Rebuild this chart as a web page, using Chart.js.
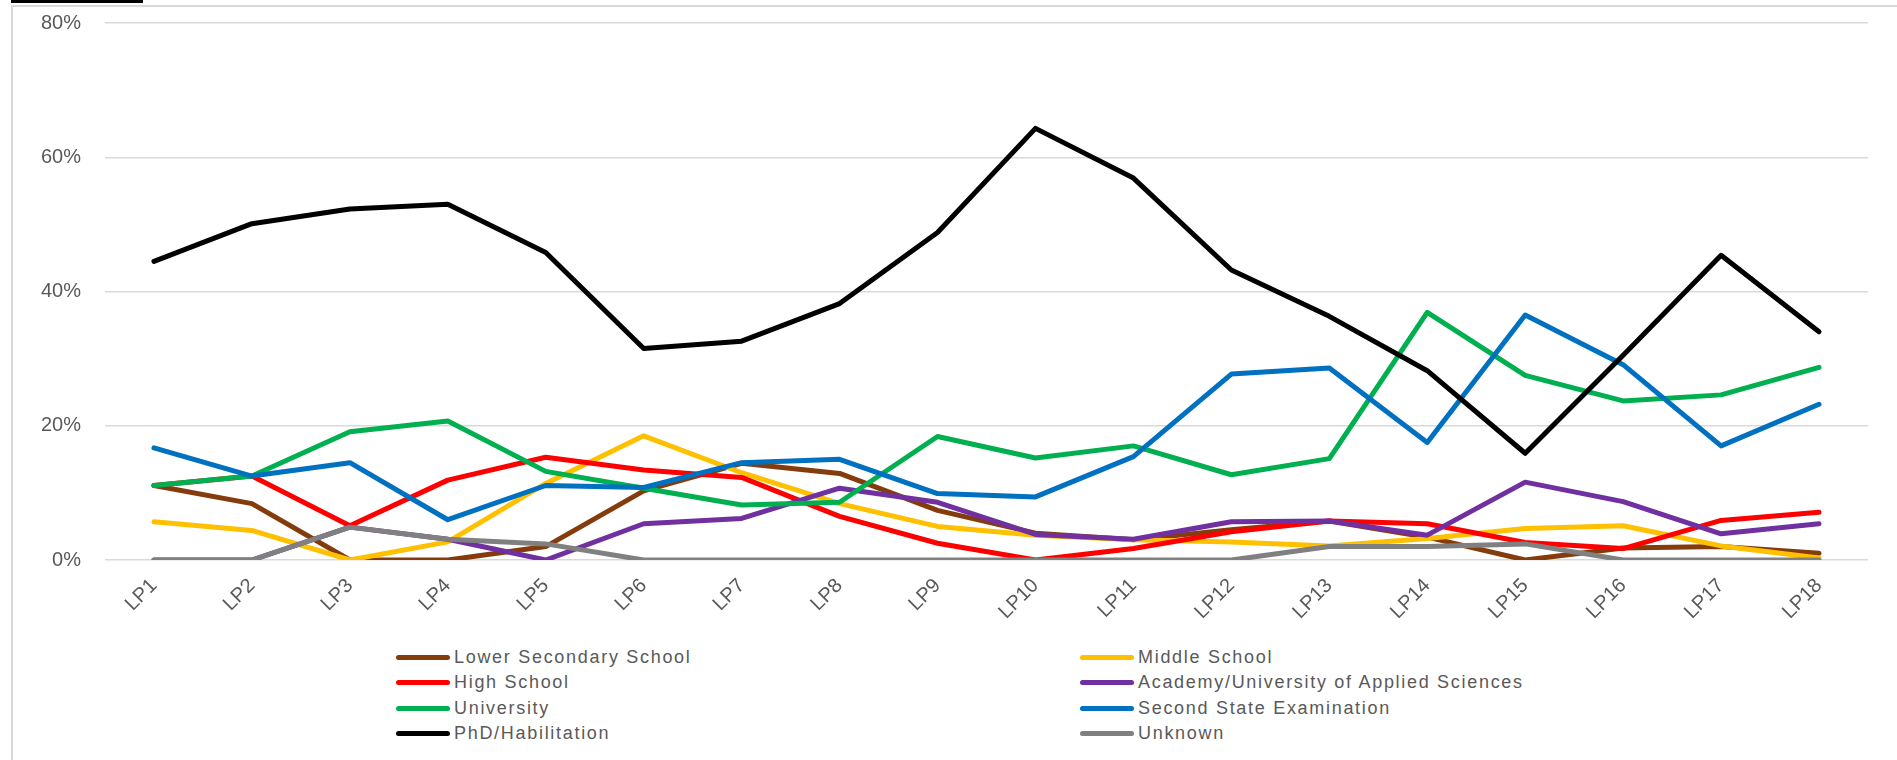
<!DOCTYPE html>
<html>
<head>
<meta charset="utf-8">
<script src="https://cdn.jsdelivr.net/npm/chart.js@4/dist/chart.umd.min.js"></script>
<style>
  body { margin: 0; background: #fff; width: 1897px; height: 760px; overflow: hidden; position: relative; font-family: "Liberation Sans", Arial, sans-serif; }
  #frame { position: absolute; left: 11px; top: 5px; width: 2000px; height: 900px; border-left: 2px solid #d9d9d9; border-top: 2px solid #d9d9d9; }
  #bar { position: absolute; left: 11px; top: 0; width: 132px; height: 3px; background: #000; }
  #wrap { position: absolute; left: 0; top: 0; width: 1897px; height: 640px; }
  #legend { position: absolute; left: 0; top: 0; }
  .item { position: absolute; height: 26px; display: flex; align-items: center; color: #595959; font-size: 18px; letter-spacing: 1.7px; white-space: nowrap; }
  .item span.swatch { display: inline-block; width: 54px; height: 5px; border-radius: 3px; margin-right: 4px; }
</style>
</head>
<body>
<div id="frame"></div>
<div id="bar"></div>
<div id="wrap"><canvas id="grafico"></canvas></div>
<div id="legend"></div>
<script>
const labels = ["LP1", "LP2", "LP3", "LP4", "LP5", "LP6", "LP7", "LP8", "LP9",
  "LP10", "LP11", "LP12", "LP13", "LP14", "LP15", "LP16", "LP17", "LP18"];

// values in percent
const lowerSecondary = [11.1, 8.4, 0, 0, 2.0, 10.3, 14.4, 12.9, 7.4, 4.0, 3.0, 4.5, 5.8, 3.4, 0, 1.8, 2.0, 1.0];
const middleSchool = [5.7, 4.4, 0, 2.7, 11.4, 18.5, 13.0, 8.4, 5.0, 3.7, 3.0, 2.7, 2.1, 3.2, 4.7, 5.1, 2.1, 0.3];
const highSchool = [11.1, 12.5, 5.1, 11.9, 15.3, 13.4, 12.3, 6.5, 2.5, 0, 1.7, 4.2, 5.8, 5.4, 2.6, 1.7, 5.9, 7.1];
const academy = [0, 0, 4.9, 3.1, 0, 5.4, 6.2, 10.7, 8.6, 3.8, 3.1, 5.7, 5.8, 3.7, 11.6, 8.7, 3.9, 5.4];
const university = [11.1, 12.5, 19.1, 20.7, 13.2, 10.7, 8.2, 8.6, 18.4, 15.2, 17.0, 12.7, 15.1, 36.9, 27.5, 23.7, 24.6, 28.7];
const secondState = [16.7, 12.5, 14.5, 6.0, 11.1, 10.8, 14.5, 15.0, 9.9, 9.4, 15.4, 27.7, 28.6, 17.5, 36.5, 29.1, 17.0, 23.2];
const phd = [44.5, 50.1, 52.3, 53.0, 45.8, 31.5, 32.6, 38.2, 48.8, 64.3, 56.9, 43.2, 36.3, 28.2, 15.9, 30.5, 45.4, 34.0];
const unknown = [0, 0, 4.9, 3.1, 2.4, 0, 0, 0, 0, 0, 0, 0, 2.0, 2.0, 2.4, 0, 0, 0];

const seriesNames = ["Lower Secondary School", "Middle School", "High School",
  "Academy/University of Applied Sciences", "University", "Second State Examination",
  "PhD/Habilitation", "Unknown"];
const seriesData = [lowerSecondary, middleSchool, highSchool, academy, university, secondState, phd, unknown];
const seriesColors = ["#843C0C", "#FFC000", "#FF0000", "#7030A0", "#00B050", "#0070C0", "#000000", "#808080"];

const yTicks = [0, 20, 40, 60, 80];

const tickFont = { family: "'Liberation Sans', Arial, sans-serif", size: 20 };

const datasets = seriesNames.map((name, i) => ({
  label: name,
  data: seriesData[i],
  borderColor: seriesColors[i],
  backgroundColor: seriesColors[i],
  borderWidth: 5,
  pointRadius: 0,
  tension: 0,
  fill: false,
  borderJoinStyle: "round",
  borderCapStyle: "round",
  order: seriesNames.length - i, // later series on top, like Excel
}));

new Chart(document.getElementById("grafico"), {
  type: "line",
  data: { labels: labels, datasets: datasets },
  options: {
    responsive: true,
    maintainAspectRatio: false,
    animation: false,
    layout: { padding: { top: 23, right: 29, left: 0, bottom: 0 } },
    plugins: { legend: { display: false }, tooltip: { enabled: false } },
    scales: {
      x: {
        offset: true,
        grid: { display: false, drawTicks: false },
        border: { display: false },
        ticks: { color: "#595959", font: tickFont, minRotation: 45, maxRotation: 45, padding: 14 },
        afterFit: (scale) => { scale.height = 80; },
      },
      y: {
        min: yTicks[0],
        max: yTicks[yTicks.length - 1],
        afterBuildTicks: (scale) => { scale.ticks = yTicks.map((v) => ({ value: v })); },
        // invisible tick marks give the gap between labels and gridlines
        grid: { color: "#d9d9d9", lineWidth: 1.5, drawTicks: true, tickLength: 24, tickColor: "rgba(0,0,0,0)" },
        border: { display: false },
        ticks: { color: "#595959", font: tickFont, padding: 0, callback: (v) => v + "%" },
        afterFit: (scale) => { scale.width = 105; },
      },
    },
  },
});

// legend, two columns like the original
const legend = document.getElementById("legend");
const colX = [396, 1080];
const rowY = [644, 669, 695, 720];
seriesNames.forEach((name, i) => {
  const div = document.createElement("div");
  div.className = "item";
  div.style.left = colX[i % 2] + "px";
  div.style.top = rowY[Math.floor(i / 2)] + "px";
  div.innerHTML = `<span class="swatch" style="background:${seriesColors[i]}"></span>${name}`;
  legend.appendChild(div);
});
</script>
</body>
</html>
